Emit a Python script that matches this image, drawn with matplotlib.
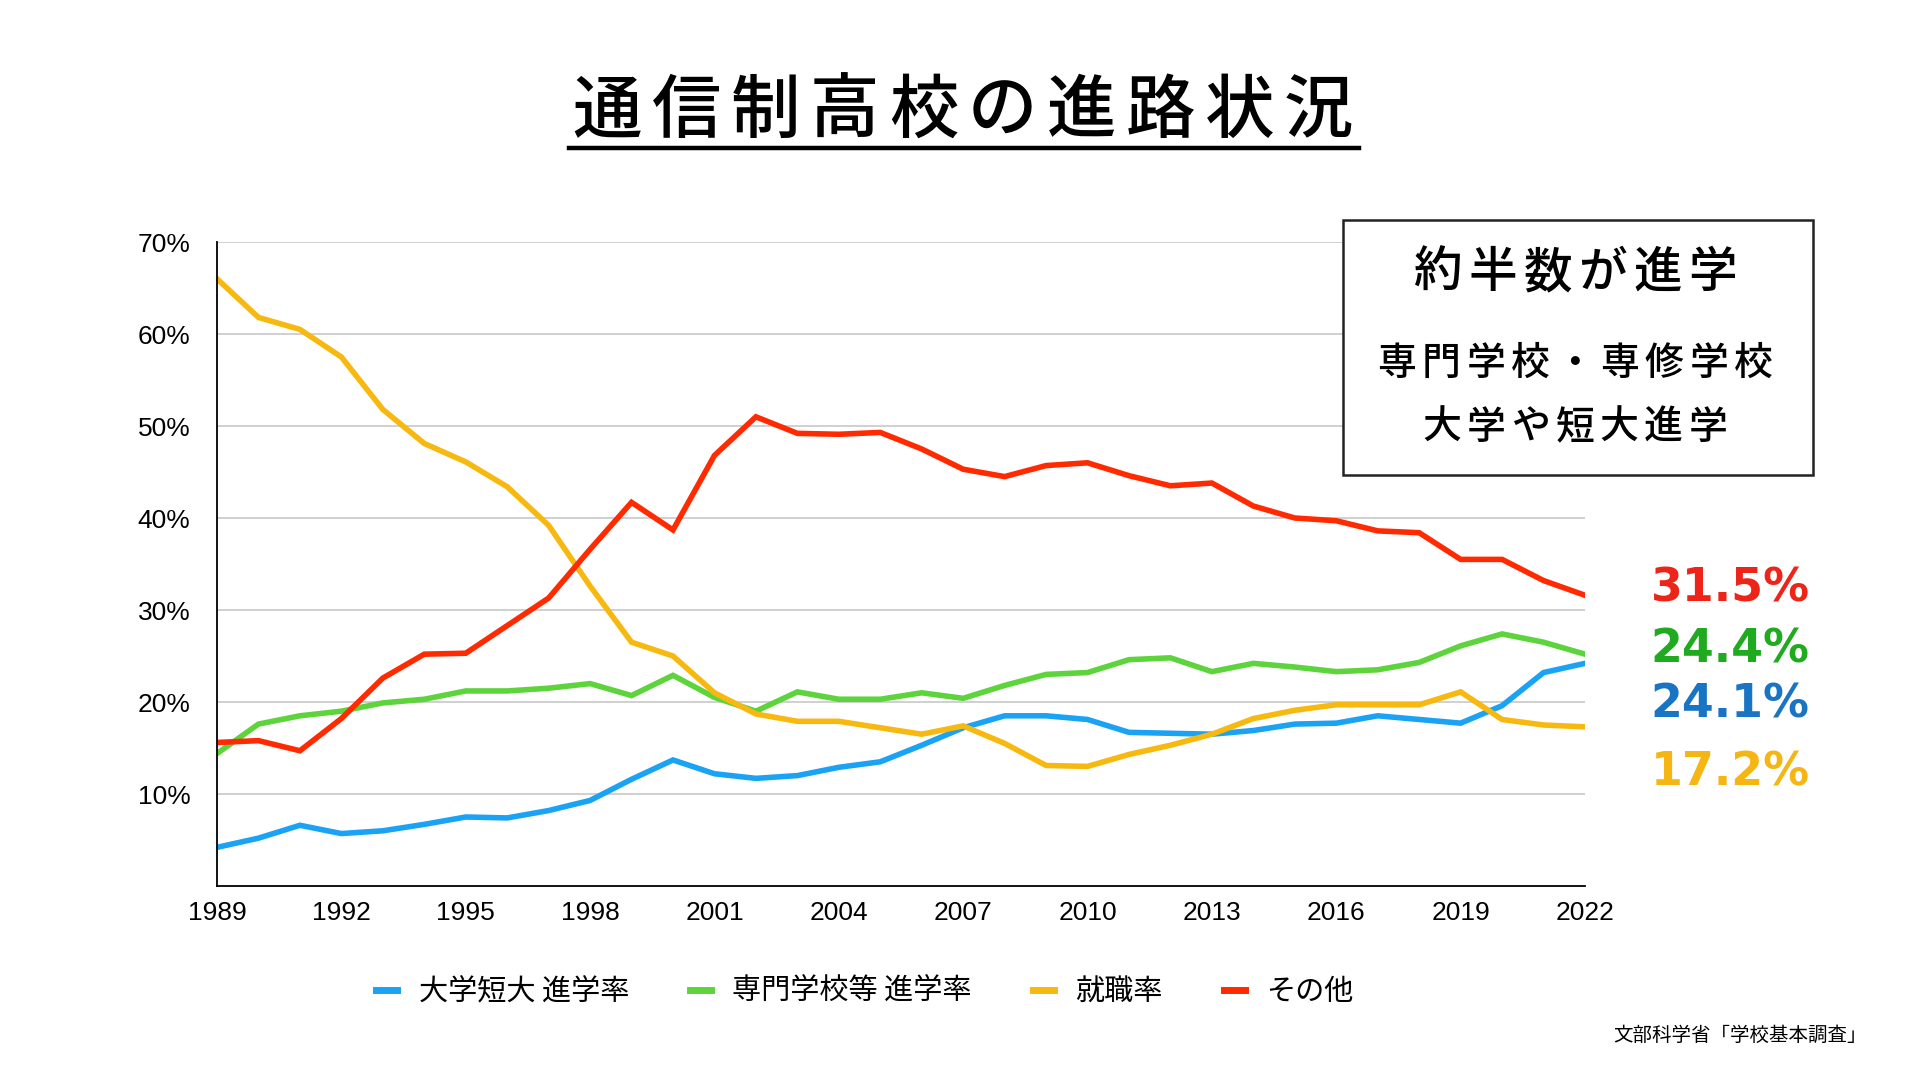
import numpy as np
import matplotlib
matplotlib.use('Agg')
import matplotlib.pyplot as plt
from matplotlib.lines import Line2D
from matplotlib.patches import Rectangle

plt.rcParams['font.family'] = ['Noto Sans CJK JP', 'DejaVu Sans']

# data (%)
years = list(range(1989, 2023))
univ = [4.2, 5.2, 6.6, 5.7, 6.0, 6.7, 7.5, 7.4, 8.2, 9.3,
        11.6, 13.7, 12.2, 11.7, 12.0, 12.9, 13.5, 15.3, 17.2, 18.5,
        18.5, 18.1, 16.7, 16.6, 16.5, 16.9, 17.6, 17.7, 18.5, 18.1,
        17.7, 19.6, 23.2, 24.2]
senmon = [14.4, 17.6, 18.5, 19.0, 19.9, 20.3, 21.2, 21.2, 21.5, 22.0,
          20.7, 22.9, 20.5, 19.0, 21.1, 20.3, 20.3, 21.0, 20.4, 21.8,
          23.0, 23.2, 24.6, 24.8, 23.3, 24.2, 23.8, 23.3, 23.5, 24.3,
          26.1, 27.4, 26.5, 25.2]
job = [66.0, 61.8, 60.5, 57.5, 51.8, 48.1, 46.1, 43.4, 39.2, 32.6,
       26.5, 25.0, 21.0, 18.7, 17.9, 17.9, 17.2, 16.5, 17.4, 15.5,
       13.1, 13.0, 14.3, 15.3, 16.5, 18.2, 19.1, 19.7, 19.7, 19.7,
       21.1, 18.1, 17.5, 17.3]
other = [15.6, 15.8, 14.7, 18.2, 22.6, 25.2, 25.3, 28.3, 31.3, 36.6,
         41.7, 38.7, 46.8, 51.0, 49.2, 49.1, 49.3, 47.5, 45.3, 44.5,
         45.7, 46.0, 44.6, 43.5, 43.8, 41.3, 40.0, 39.7, 38.6, 38.4,
         35.5, 35.5, 33.2, 31.6]

series_names = ['大学短大 進学率', '専門学校等 進学率', '就職率', 'その他']
line_colors = ['#1aa3f5', '#5dd43c', '#f7b90f', '#ff2a00']
latest_labels = ['31.5%', '24.4%', '24.1%', '17.2%']
latest_colors = ['#ee2418', '#1faa1f', '#1a74c4', '#f5b512']

title = '通信制高校の進路状況'
box_lines = ['約半数が進学', '専門学校・専修学校', '大学や短大進学']
source = '文部科学省「学校基本調査」'

W, H = 1920, 1080
fig = plt.figure(figsize=(19.2, 10.8), dpi=100)
ax = fig.add_axes([217 / W, 1 - 886 / H, (1585 - 217) / W, (886 - 242) / H])


def spaced(x_px, y_px, s, pitch, **kw):
    # draw a string with letter spacing (centred at x_px)
    n = len(s)
    x0 = x_px - pitch * (n - 1) / 2
    for i, ch in enumerate(s):
        fig.text((x0 + i * pitch) / W, 1 - y_px / H, ch, ha='center', va='center', **kw)


handles = []
for vals, name, c in zip([univ, senmon, job, other], series_names, line_colors):
    ln, = ax.plot(years, vals, color=c, lw=4, label=name, solid_joinstyle='miter')
    handles.append(ln)

ax.set_xlim(1989, 2022)
ax.set_ylim(0, 70)
ax.set_xticks(years[::3])
ax.set_yticks(range(10, 71, 10))
ax.set_yticklabels([f'{v}%' for v in range(10, 71, 10)])
ax.tick_params(length=0, labelsize=19)
ax.tick_params(axis='y', pad=19)
ax.tick_params(axis='x', pad=11)
for lab in ax.get_xticklabels() + ax.get_yticklabels():
    lab.set_family('Liberation Sans')
ax.grid(axis='y', color='#c4c4c4', lw=1.1)
ax.set_axisbelow(True)
for sp in ['top', 'right']:
    ax.spines[sp].set_visible(False)
for sp in ['left', 'bottom']:
    ax.spines[sp].set_color('black')
    ax.spines[sp].set_linewidth(1.3)

# title with underline
spaced(963, 112, title, 79, fontsize=50, weight='medium')
fig.add_artist(Line2D([569 / W, 1359 / W], [1 - 148 / H, 1 - 148 / H], color='black', lw=3.2))

# annotation box
fig.add_artist(Rectangle((1343 / W, 1 - 475 / H), (1813 - 1343) / W, (475 - 220) / H,
                         fill=True, facecolor='white', edgecolor='#222222', lw=1.8, zorder=5))
spaced(1575, 273, box_lines[0], 55, fontsize=35, weight='medium', zorder=6)
spaced(1575, 364, box_lines[1], 44.6, fontsize=28, weight='medium', zorder=6)
spaced(1575, 428, box_lines[2], 44.3, fontsize=28, weight='medium', zorder=6)

# latest values
for lab, c, y in zip(latest_labels, latest_colors, [589, 650, 705, 773]):
    fig.text(1730 / W, 1 - y / H, lab, ha='center', va='center', color=c,
             fontsize=33, weight='bold', family='DejaVu Sans')

leg = fig.legend(handles=handles, loc='center', bbox_to_anchor=(865 / W, 1 - 992 / H),
                 ncol=4, frameon=False, fontsize=21, handlelength=0.7,
                 handletextpad=0.75, columnspacing=2.1)
for h in leg.legend_handles:
    h.set_linewidth(5)

fig.text(1867 / W, 1 - 1035 / H, source, ha='right', va='center', fontsize=14)

fig.savefig('out.png', dpi=100, facecolor='white')
